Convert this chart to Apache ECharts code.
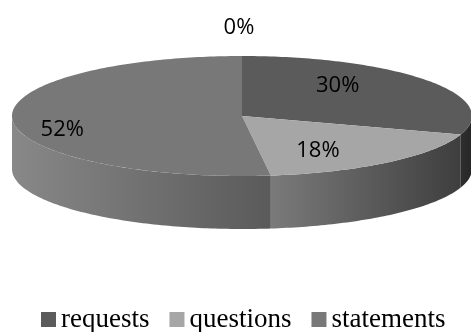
<!DOCTYPE html>
<html>
<head>
<meta charset="utf-8">
<script src="https://cdn.jsdelivr.net/npm/echarts@6/dist/echarts.min.js"></script>
<style>
  html, body { margin: 0; padding: 0; background: #fff; }
  #chart { width: 471px; height: 332px; }
</style>
</head>
<body>
<div id="chart"></div>
<script>
// data
const categories = ['requests', 'questions', 'statements', '']
const shares = [30, 18, 52, 0]
const legendNames = ['requests', 'questions', 'statements']

// colours: top face, and wall gradient (left -> right)
const topColors = ['#5b5b5b', '#a6a6a6', '#787878', '#787878']
const wallColors = [['#2e2e2e', '#262626'], ['#7a7a7a', '#3e3e3e'], ['#888888', '#5a5a5a'], ['#888888', '#5a5a5a']]
// label nudges, pixels
const labelShift = [[-16, -9], [-12, 7], [-42, 11], [-3, -52]]

// pie geometry (3d ellipse)
const cx = 242, cy = 116, rx = 230, ry = 60, depth = 53

const total = shares.reduce((a, b) => a + b, 0)
const starts = []
let acc = 0
shares.forEach(v => { starts.push(acc / total * 360); acc += v })

// angle measured clockwise from 12 o'clock
const pt = (deg, dy = 0) => {
  const r = deg * Math.PI / 180
  return [cx + rx * Math.sin(r), cy - ry * Math.cos(r) + dy]
}

const arc = (a, b, dy) => {
  const pts = []
  const n = Math.max(2, Math.ceil(Math.abs(b - a)))
  for (let i = 0; i <= n; i++) pts.push(pt(a + (b - a) * i / n, dy))
  return pts
}

const renderSlice = (params, api) => {
  const i = params.seriesIndex
  const a = starts[i]
  const b = a + shares[i] / total * 360
  const children = []

  // outer wall, front half only (90..270)
  const wa = Math.max(a, 90), wb = Math.min(b, 270)
  if (wb > wa) {
    const top = arc(wa, wb, 0)
    const bottom = arc(wb, wa, depth)
    const xs = top.map(p => p[0])
    const x0 = Math.min(...xs), x1 = Math.max(...xs)
    children.push({
      type: 'polygon',
      shape: { points: top.concat(bottom) },
      style: {
        fill: new echarts.graphic.LinearGradient(x0, 0, x1, 0, [
          { offset: 0, color: wallColors[i][0] },
          { offset: 1, color: wallColors[i][1] }
        ], true)
      },
      z2: 1
    })
  }

  // top face
  if (b > a) {
    children.push({
      type: 'polygon',
      shape: { points: [[cx, cy]].concat(arc(a, b, 0)) },
      style: { fill: topColors[i] },
      z2: 2
    })
  }

  // label
  const mid = (a + b) / 2
  const m = mid * Math.PI / 180
  const lx = cx + rx * 0.6 * Math.sin(m) + labelShift[i][0]
  const ly = cy - ry * 0.6 * Math.cos(m) + labelShift[i][1]
  children.push({
    type: 'text',
    x: lx,
    y: ly,
    style: {
      text: Math.round(shares[i] / total * 100) + '%',
      fill: '#000',
      font: '22px "Open Sans"',
      align: 'center',
      verticalAlign: 'middle'
    },
    z2: 10
  })

  return { type: 'group', children }
}

const chart = echarts.init(document.getElementById('chart'), null, { renderer: 'canvas' })

const option = {
  animation: false,
  legend: {
    data: legendNames,
    left: 36,
    top: 301,
    itemWidth: 15,
    itemHeight: 15,
    itemGap: 20,
    icon: 'rect',
    textStyle: {
      fontFamily: 'Liberation Serif',
      fontSize: 27,
      color: '#000'
    }
  },
  series: categories.map((name, i) => ({
    type: 'custom',
    name: name,
    coordinateSystem: 'none',
    renderItem: renderSlice,
    itemStyle: { color: topColors[i] },
    data: [[shares[i]]]
  }))
}

chart.setOption(option)
</script>
</body>
</html>
